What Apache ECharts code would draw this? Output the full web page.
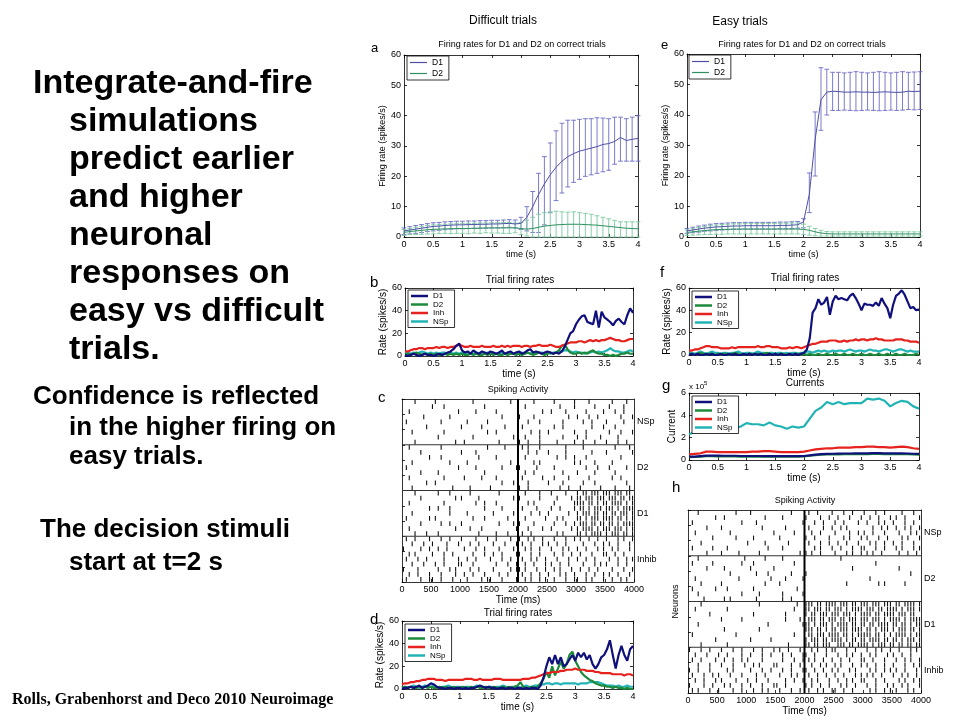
<!DOCTYPE html>
<html><head><meta charset="utf-8">
<script src="https://cdn.jsdelivr.net/npm/echarts@6/dist/echarts.min.js"></script>
<style>html,body{margin:0;padding:0;background:#fff}#c{width:960px;height:720px}</style>
</head><body><div id="c"></div>
<script>
// ---------------- DATA ----------------
// time grids (s)
const STEP_A = 0.1;   // panels a, e, g
const STEP_B = 0.05;  // panels b, d, f
// panel a (difficult, mean +/- sd)
const aD1Mean = [2.0,2.3,2.6,2.9,3.2,3.5,3.6,3.8,3.9,4.0, 4.0,4.1,4.1,4.2,4.2,4.3,4.3,4.4,4.5,4.3, 4.5,6.5,10,14,17.5,20.5,23,25,26.5,27.5, 28.3,28.8,29.3,29.8,30.5,30.8,31.5,32.8,31.8,32.2, 32.5];
const aD1Hi   = [3.0,3.4,3.8,4.1,4.4,4.7,4.8,5.0,5.1,5.2, 5.2,5.3,5.3,5.4,5.4,5.5,5.5,5.6,5.7,5.6, 6.5,10,15,21,26.5,31,35,37.5,38.5,38.5, 38.8,39,39,39.3,39.2,39,39.5,39.5,39,39.5, 40];
const aD1Lo   = [0.8,1.0,1.2,1.5,1.8,2.0,2.2,2.4,2.6,2.7, 2.7,2.8,2.8,2.9,2.9,3.0,3.0,3.1,3.2,3.0, 2.5,2.0,1.5,1.5,4,8,12,14.5,16.5,18, 19,20,20.5,21,21.5,22,24,25,25,25, 25];
const aD2Mean = [1.5,1.8,2.0,2.2,2.4,2.5,2.6,2.7,2.7,2.8, 2.8,2.8,2.9,2.9,3.0,3.0,3.0,3.0,3.0,3.0, 2.8,2.6,2.8,3.2,3.6,3.8,4.0,4.1,4.2,4.2, 4.2,4.1,4.0,3.9,3.7,3.5,3.3,3.1,2.9,2.8, 2.7];
const aD2Hi   = [2.5,2.8,3.2,3.5,3.8,4.0,4.1,4.2,4.3,4.4, 4.4,4.5,4.5,4.6,4.6,4.7,4.7,4.8,4.8,4.6, 4.8,5.5,6.5,7.5,8.0,8.3,8.5,8.3,8.2,8.3, 8.0,7.8,7.5,7.0,6.5,6.0,5.5,5.0,5.0,5.0, 5.0];
const aD2Lo   = [0.5,0.8,0.8,0.9,1.0,1.0,1.1,1.2,1.1,1.2, 1.2,1.1,1.3,1.2,1.4,1.3,1.3,1.2,1.2,1.4, 0.8,0.3,0,0,0,0,0,0,0,0, 0,0,0,0,0,0,0,0,0,0, 0];
// panel e (easy, mean +/- sd)
const eD1Mean = [2.0,2.3,2.6,2.9,3.1,3.3,3.4,3.5,3.6,3.6, 3.7,3.7,3.7,3.7,3.7,3.7,3.8,3.8,3.9,4.0, 5.0,14,32,45,47.5,47.8,47.7,47.5,47.5,47.6, 47.5,47.5,47.4,47.5,47.6,47.5,47.4,47.5,47.8,47.7, 47.8];
const eD1Hi   = [2.8,3.2,3.6,3.9,4.2,4.4,4.5,4.6,4.7,4.7, 4.8,4.8,4.8,4.8,4.8,4.8,4.9,4.9,5.0,5.1, 6.0,21,41,55.5,55,54,54,53.8,54,54.2, 54,53.8,54,54.2,54,53.8,54,54.2,54,54.1, 54.2];
const eD1Lo   = [1.2,1.4,1.6,1.9,2.0,2.2,2.3,2.4,2.5,2.5, 2.6,2.6,2.6,2.6,2.6,2.6,2.7,2.7,2.8,2.9, 3.0,8,20,35,40,41.5,41.5,41.6,41.5,41.4, 41.5,41.6,41.5,41.4,41.5,41.6,41.5,41.6,41.8,41.7, 41.8];
const eD2Mean = [1.5,1.7,1.9,2.1,2.3,2.4,2.5,2.5,2.6,2.6, 2.6,2.6,2.6,2.6,2.6,2.6,2.6,2.6,2.6,2.6, 2.5,2.2,1.7,1.3,1.1,1.0,1.0,1.0,1.0,1.0, 1.0,1.0,1.0,1.0,1.0,1.0,1.0,1.0,1.0,1.0, 1.0];
const eD2Hi   = [2.3,2.7,3.1,3.4,3.7,3.9,4.1,4.2,4.3,4.3, 4.4,4.4,4.4,4.4,4.4,4.5,4.5,4.5,4.6,4.6, 4.2,3.5,2.8,2.2,1.8,1.7,1.7,1.7,1.7,1.7, 1.7,1.7,1.7,1.7,1.7,1.7,1.7,1.7,1.7,1.7, 1.7];
const eD2Lo   = [0.5,0.6,0.7,0.8,0.8,0.9,0.9,1.0,1.0,1.0, 1.0,1.0,1.0,1.0,1.0,1.0,1.0,1.0,1.0,1.0, 0.8,0.6,0.4,0.3,0.3,0.3,0.3,0.3,0.3,0.3, 0.3,0.3,0.3,0.3,0.3,0.3,0.3,0.3,0.3,0.3, 0.3];
// panel b (difficult trial firing rates)
const bD1  = [1,0,1,2,1,0,1,2,1,1, 0,1,2,1,2,3,4,6,9,11, 5,3,4,2,5,3,2,4,3,2, 4,3,2,3,5,2,3,4,2,3, 4,2,3,5,6,3,4,3,2,3, 4,3,2,3,2,4,8,14,20,22, 28,32,35,36,30,29,28,40,25,39, 34,32,30,27,31,33,30,28,36,42, 38];
const bD2  = [1,2,1,2,3,2,1,2,1,2, 1,2,1,1,2,1,2,1,2,1, 2,1,1,2,1,2,1,1,2,1, 2,1,2,1,1,2,1,2,2,1, 2,1,2,3,2,1,2,3,2,1, 2,3,2,3,5,9,10,6,3,2, 2,3,2,3,2,4,5,3,2,2, 1,1,0,1,0,1,2,2,3,2, 2];
const bInh = [4,4,5,6,6,7,7,6,7,7, 7,8,7,8,8,7,8,8,9,10, 9,8,8,9,8,8,8,9,8,8, 8,9,8,8,9,8,9,8,9,9, 9,8,9,9,8,9,9,10,9,9, 9,10,9,8,8,9,10,11,12,12, 12,13,13,12,13,14,13,14,13,14, 14,15,16,15,14,14,13,13,14,15, 15];
const bNSp = [2,3,2,3,2,3,4,3,2,3, 2,3,2,3,3,2,3,2,3,2, 3,2,3,2,2,3,2,3,2,3, 2,3,2,2,3,2,3,2,2,3, 2,3,2,3,2,3,2,3,3,2, 3,2,3,3,4,4,5,5,4,3, 4,3,3,2,3,3,4,3,4,3, 4,5,7,5,4,4,3,3,4,5, 4];
// panel f (easy trial firing rates)
const fD1  = [0,1,0,1,0,0,1,0,1,0, 0,1,0,0,1,0,1,0,0,1, 0,1,0,1,0,1,0,0,1,0, 1,0,1,0,0,1,0,1,0,1, 2,5,15,38,42,50,45,47,52,36, 48,53,50,51,50,49,53,55,51,46, 40,46,45,45,44,47,44,51,46,42, 33,45,53,55,58,54,48,42,43,40, 41];
const fD2  = [1,1,0,1,2,1,0,1,1,0, 1,0,1,1,0,1,2,1,0,1, 0,1,1,0,1,0,1,2,1,0, 1,0,1,1,0,1,0,1,1,0, 1,0,1,0,0,1,0,0,1,0, 0,1,0,0,1,0,0,1,0,0, 1,0,0,1,0,0,1,0,0,1, 0,0,1,0,0,1,0,0,0,1, 0];
const fInh = [4,4,5,5,6,7,8,8,7,7, 7,6,6,6,6,7,6,7,7,7, 7,7,7,7,8,7,7,8,8,7, 7,7,6,6,6,7,6,7,7,6, 7,8,9,10,10,11,12,12,12,13, 13,13,12,12,13,12,13,13,14,13, 14,14,13,14,14,15,14,14,13,13, 13,13,14,14,14,13,13,12,12,12, 11];
const fNSp = [1,2,1,2,3,2,1,2,3,2, 2,1,2,2,1,2,2,3,2,1, 2,2,1,2,3,2,2,1,2,2, 1,2,2,1,2,1,2,2,1,2, 2,3,3,2,3,4,3,4,3,3, 4,3,4,4,3,4,5,4,3,4, 4,3,4,5,4,4,3,4,5,5, 4,3,4,5,5,4,3,4,3,3, 3];
// panel d (difficult trial, other example)
const dD1  = [0,1,1,2,1,2,3,1,2,3, 5,4,2,1,1,0,1,1,0,1, 1,0,1,0,1,1,2,3,2,1, 2,1,1,0,1,1,0,1,1,0, 1,1,0,1,0,1,1,0,3,10, 20,28,22,30,22,28,20,22,26,30, 25,32,28,32,26,30,22,18,22,28, 30,35,43,30,18,30,38,30,25,35, 38];
const dD2  = [1,2,1,2,1,1,2,1,2,1, 2,1,1,2,1,2,1,1,2,1, 1,2,1,1,2,1,2,1,1,2, 1,1,2,1,1,2,1,2,1,2, 3,6,2,1,1,2,1,2,5,9, 15,10,20,12,18,24,18,22,30,33, 25,20,15,12,10,8,7,5,4,3, 3,2,2,1,2,1,1,0,1,0, 0];
const dInh = [4,5,5,6,6,7,7,8,8,9, 9,9,8,8,8,7,8,8,8,8, 8,8,9,9,9,8,8,9,8,8, 8,8,9,9,9,8,8,8,8,8, 8,8,9,9,9,10,10,11,12,13, 14,14,15,15,15,16,16,17,17,17, 18,17,17,17,16,16,16,15,15,14, 14,14,14,13,13,13,13,12,13,13, 12];
const dNSp = [1,2,1,2,3,2,1,2,3,2, 2,3,2,1,2,2,3,2,1,2, 2,1,2,2,1,2,3,2,2,1, 2,2,1,2,2,3,2,1,2,2, 2,1,2,3,2,2,3,3,4,4, 5,5,4,5,5,4,5,5,5,5, 5,4,5,5,5,6,6,6,6,5, 4,3,3,3,2,3,2,2,3,2, 2];
// panel g (currents, x 10^5)
const gD1  = [0.3,0.3,0.35,0.4,0.4,0.4,0.38,0.38,0.38,0.36, 0.36,0.36,0.36,0.35,0.35,0.35,0.34,0.34,0.34,0.34, 0.36,0.42,0.48,0.52,0.55,0.56,0.57,0.58,0.58,0.6, 0.6,0.6,0.62,0.62,0.6,0.6,0.6,0.6,0.58,0.56, 0.55];
const gD2  = [0.25,0.27,0.3,0.35,0.35,0.33,0.32,0.32,0.32,0.3, 0.3,0.3,0.3,0.3,0.3,0.3,0.3,0.3,0.3,0.3, 0.32,0.38,0.43,0.47,0.5,0.5,0.51,0.52,0.52,0.53, 0.53,0.53,0.54,0.54,0.53,0.53,0.53,0.52,0.52,0.5, 0.48];
const gInh = [0.5,0.55,0.6,0.75,0.75,0.7,0.7,0.7,0.7,0.7, 0.7,0.75,0.75,0.8,0.8,0.75,0.7,0.7,0.7,0.7, 0.75,0.85,0.95,1.0,1.05,1.05,1.1,1.1,1.1,1.15, 1.15,1.2,1.2,1.15,1.15,1.1,1.15,1.2,1.15,1.05, 1.0];
const gNSp = [2.3,2.5,2.6,2.7,2.8,2.9,2.9,2.85,2.85,3.0, 3.3,3.2,3.2,3.1,3.35,3.1,3.0,2.8,3.0,2.9, 3.0,3.7,4.4,4.7,5.2,5.0,5.2,5.0,5.1,5.1, 5.1,5.5,5.4,5.5,5.3,4.8,5.1,5.3,5.2,4.8, 4.6];
// rasters: one string per neuron row, each char = 50 ms bin, '|' = spike (0..4000 ms)
const BIN_MS = 50;
const rasterGroups = ['NSp','D2','D1','Inhib'];
const cNSp = [
"....|..... .|........ ....|..... .......|.. .....|.... ..|......| ....|..... ..|....|..",
".......... |...|..... ........|. .......... ..|....... ....|....| ......|... .|....|...",
"..|....... .........| .....|.... ..|....... ........|. .|....|... ...|.....| ...|..|...",
".......|.. ......|... .......... ....|..... |....|.... .......|.. |...|..|.. .....|...|",
".|........ ...|...... ..|......| .......... ...|...|.. .....|.... ..|..|.... |.....|...",
"........|. .......... |......|.. .....|.... .|........ ..|..|.... .....|...| ...|......",
"...|...... ....|..... .........| ..|....... ....|..|.. |........| ...|...... .|...|...|",
".......... ..|....... ....|..... ........|. ..|....|.. .....|.... |..|....|. ....|.....",
"....|..... ........|. .|........ ...|...... |..|...|.. ...|.....| ..|...|... |...|..|.."];
const cD2 = [
"..|....... ...|...... .........| .....|.... .|.|...|.. ......|... ..|....... ...|....|.",
"......|... .......... |....|.... .......... ...|..|... |.....|... .....|.... |........|",
".........| ...|...... ......|... ..|....... ..|....... ...|..|..| ...|...... .....|....",
"...|...... ......|... ..|....... .......|.. .....|.|.. .........| .|....|... ..|.......",
".|........ .........| .....|.... ....|....| |.....|... ..|....... ...|...|.. .|.....|..",
"......|... ..|....... ........|. .......... ..|..|.... .....|.... |.....|... ...|......",
"..|....... ....|..... .|.....|.. ..|....... .|......|. ..|....|.. ....|..... ..|..|....",
"........|. .|........ .......... ....|...|. ...|...... |....|.... ..|...|... .......|..",
"...|...... .......|.. ...|...... |......... |..|...... ....|..|.. .|......|. ...|....|."];
const cD1 = [
"....|..... ..|...|... ...|...... ...|...... ..|....|.. .|....|... |.||.|||.| ||.|||.||.",
"......|... ........|. |.....|... ........|. |......|.. ...|....|. ||.|||.||| .|||.||.||",
"..|....... ....|..... .....|..|. ..|....... ...|.|.... ..|......| |||.||.|.| |.||||.|.|",
".........| ..|...|... ........|. ....|..... .|....|... .|..|....| .||.|.|||. |||.|.||||",
"...|...... ......|... ..|....... .|......|. ....|..|.. |......|.. |.|||.||.| |.||.|||.|",
".|.......| .|........ ....|...|. ......|... ..|......| ...|.|.... ||.|.|||.| |||.||.|.|",
"......|... ...|..|... |......... ...|....|. |....|.... ..|...|..| .|||.||.|| .||.|.||||",
"..|....... ........|. ...|...|.. .........| ...|....|. .|......|. |.||||.|.| ||.|||.|.|",
"....|...|. ..|....... ......|... ..|...|... .|..|..... ...|.|.... ||.|.||||. |.|||.||.|"];
const cInhib = [
".|..|....| ...|..|... |....|...| ..|....|.. |..|.|..|. ..|...|..| .|..|..|.. |...|.|..|",
"...|...|.. |....|...| ...|..|... .|...|...| .|..|...|. |..|..|... ..|...|..| .|..|...|.",
"|.....|..| ..|..|.... .|...|..|. ...|....|. ..|.|..|.. .|...|.|.. |..|...|.| ..|.|...|.",
"..|.|..... |...|..|.. ....|...|. .|..|....| |...|..|.. ..|..|..|. .|...|...| |..|..|...",
".|...|..|. ....|....| ..|..|.... |...|..|.. .|..|.|..| ...|...|.. |..|..|... .|..|..|.|",
"...|...|.. .|..|....| |...|..... ..|...|..| ..|..|...| .|..|..|.. ..|...|.|. |...|..|..",
"|....|.... ..|...|.|. ...|..|... .|.....|.| |.|...|..| ..|.|...|. .|..|..|.. ..|...|..|",
"..|..|...| ...|....|. .|..|...|. ...|..|... .|..|..|.. |...|.|..| ...|..|..| .|..|...|.",
".|....|..| |..|...|.. ..|....|.| |...|....| ..|.|..|.| ..|...|..| |..|.|...| ..|..|.|.."];
const hNSp = [
"...|...... ......|... .|........ .....|.... .|..|....| ...|..|... |...|..|.. ...|...|..",
".........| ..|....... ......|... ..|....... |....|..|. .|...|...| ..|..|...| .|..|....|",
".|........ ........|. ...|...... .........| ...|..|... |..|....|. .|...|.|.. |...|..|..",
"......|... .|........ .....|.... ...|...... .|....|..| ..|.|..... ...|..|.|. .|..|.|..|",
"..|....... ....|..... .........| ......|... ..|..|.... |....|..|. |..|...|.. ..|...|.|.",
"........|. ......|... ..|....... .|........ |..|....|. ...|.|...| .|...|..|. ...|.|...|",
"....|..... .......... |.....|... ....|..... .|...|..|. .|..|...|. ..|.|..|.. |..|...|..",
".|......|. ...|...... .......|.. ..|....... ...|.|...| ..|...|..| |...|..|.. .|.|...|.|",
"......|... .|.....|.. ....|..... ........|. |.|..|.... |...|.|..| .|.|..|... ..|..|..|."];
const hD2 = [
"...|...... .........| ......|... ..|....... .......... ..|....... .......... ..........",
".|......|. ........|. ..|....... ......|... .......... .......... ....|..... ..........",
"......|... ..|....... .|.......| .......... .......... ......|... .......... ..|.......",
".......... ....|..... ...|...|.. .....|.... |......... .......... .......... ......|...",
"..|....... .......|.. ........|. ...|.....| .......... .......... ..|....... ..........",
"....|..... .|........ ......|... .|........ .......... ....|..... .....|.|.. ....|.....",
".|.......| ...|...... ..|....... .......|.. .......... .......... .......... ..........",
"...|...... ........|. ....|..... ..|......| .......... .......... .......... ..........",
".....|.... ..|.|..... ...|...... ..|..|.... .......... .......... .......... .........."];
const hD1 = [
"....|..... .......... ....|..... .......|.. |||.||.||| |.|||.||.| ||.|||.||| .||.||||.|",
"..|....... ...|...... .......... ......|... ||.|||.||. |||.|.|||| .|||.||.|| ||.|.|||.|",
".......|.. .......... ..|....... ...|...... |.||.|||.| ||.|||.|.| |||.||.||| |.|||.||..",
".......... .|......|. .......... ...|....|. .|||.||.|| |.||.|||.| ||.|||.|.| |||.|.||||",
"...|...... .......... .......|.. .........| ||.|.|||.| .||||.||.| |.||.||||. ||.||.|.||",
".......... ..|....... ....|..... .......... |||.||.|.| |.|||.|||| .||.|.|||. |.|||.||.|",
".|........ ......|... .......... ......|... .||.|||.|| ||.||.|.|| |||.||.|.| .||||.|.||",
".........| .......... .|......|. .......... |.|||.||.| |||.|.||.| |.||||.||. ||.|.|||.|",
"....|..... ...|...... .......... ....|..... ||.||.|||. .|||.||.|| ||.|.|||.| |.||.||.||"];
const hInhib = [
"|...|..|.. .|...|..|. ..|..|...| .|..|...|. ..|.|..|.| |...|..|.. .|..|.|..| ..|...|.|.",
"..|...|... |..|....|. .|...|..|. ..|..|...| |..|...|.. .|..|.|..| ..|.|...|. |..|..|...",
".|..|....| ..|..|..|. |....|.... ..|...|..| .|.|..|..| ..|..|...| |..|...|.. .|..|.|..|",
"...|...|.. .|...|...| ..|.|....| |....|..|. ..|..|.|.. |.|...|..| .|..|..|.. |...|..|.|",
"|..|...|.. ...|.|.... .|...|..|. ..|..|...| |..|..|..| .|...|.|.. ..|.|..|.| .|..|...|.",
".|...|..|. |...|...|. ...|..|... .|...|.|.. .|..|..|.. |..|...|.| .|.|..|... |..|.|..|.",
"..|..|...| .|....|... |..|...|.. ...|..|..| ..|.|...|. .|..|.|..| |...|..|.. ..|.|..|.|",
"|....|..|. ..|.|...|. .|...|...| |..|...... |.|..|..|. ..|.|..|.. .|..|...|. |..|.|...|",
".|.|...|.. |....|..|. ..|..|.|.. .|...|..|. .|..|.|..| |..|..|... ..|.|..|.| .|...|.|.."];
const groupBounds = [9, 18, 27];
const stimulusOnsetMs = 2000;

// ---------------- STYLE ----------------
const NARROW = "'Liberation Sans Narrow','Arial Narrow','Liberation Sans',Arial,sans-serif";
const SANS = "'Liberation Sans',Arial,sans-serif";
const COL = {aD1:'#4f4fa6', aD1e:'#6c6cc4', aD2:'#2f8f60', aD2e:'#7ccaa0',
             D1:'#10107c', D2:'#1d8a3a', Inh:'#e5221e', NSp:'#22b3b5'};

const grids=[], xAxes=[], yAxes=[], series=[], legends=[], graphics=[];
const tickS = {show:true, inside:true, length:3, lineStyle:{color:'#000', width:0.8}};
const lineS = {show:true, onZero:false, lineStyle:{color:'#000', width:0.8}};
const plainNum = v => String(v);

function panel(box, xc, yc) {
  const gi = grids.length;
  grids.push({left:box[0], top:box[1], width:box[2], height:box[3], show:true, borderWidth:0, backgroundColor:'#fff'});
  const xi = xAxes.length, yi = yAxes.length;
  xAxes.push({gridIndex:gi, type:'value', position:'bottom', min:xc.min, max:xc.max, interval:xc.interval,
    axisLine:lineS, axisTick:tickS, splitLine:{show:false},
    axisLabel:{color:'#000', fontSize:xc.fs||9, fontFamily:NARROW, margin:xc.margin||3, formatter:plainNum},
    name:xc.name, nameLocation:'middle', nameGap:xc.gap,
    nameTextStyle:{color:'#000', fontSize:xc.nfs||9, fontFamily:NARROW}});
  xAxes.push({gridIndex:gi, type:'value', position:'top', min:xc.min, max:xc.max, interval:xc.interval,
    axisLine:lineS, axisTick:xc.topTicks===false?{show:false}:tickS, axisLabel:{show:false}, splitLine:{show:false}});
  yAxes.push({gridIndex:gi, type:'value', position:'left', min:yc.min, max:yc.max, interval:yc.interval, inverse:!!yc.inverse,
    axisLine:lineS, axisTick:tickS, splitLine:{show:false},
    axisLabel:yc.noLabel?{show:false}:{color:'#000', fontSize:yc.fs||9, fontFamily:NARROW, margin:3, formatter:plainNum},
    name:yc.name, nameLocation:'middle', nameGap:yc.gap, nameRotate:90,
    nameTextStyle:{color:'#000', fontSize:yc.nfs||9, fontFamily:NARROW}});
  if (yc.right) {
    yAxes.push(Object.assign({gridIndex:gi, position:'right'}, yc.right));
  } else {
    yAxes.push({gridIndex:gi, type:'value', position:'right', min:yc.min, max:yc.max, interval:yc.interval,
      axisLine:lineS, axisTick:tickS, axisLabel:{show:false}, splitLine:{show:false}});
  }
  return {xi, yi};
}

function pairs(arr, step){ return arr.map((v,i)=>[Math.round(i*step*100)/100, v]); }
function triples(lo, hi, step){ return lo.map((v,i)=>[Math.round(i*step*100)/100, v, hi[i]]); }

function errRender(color){
  return function(params, api){
    const x = api.value(0);
    const p1 = api.coord([x, api.value(2)]), p2 = api.coord([x, api.value(1)]);
    const hw = 2.4, st = {stroke:color, lineWidth:0.9};
    return {type:'group', children:[
      {type:'line', shape:{x1:p1[0],y1:p1[1],x2:p2[0],y2:p2[1]}, style:st},
      {type:'line', shape:{x1:p1[0]-hw,y1:p1[1],x2:p1[0]+hw,y2:p1[1]}, style:st},
      {type:'line', shape:{x1:p2[0]-hw,y1:p2[1],x2:p2[0]+hw,y2:p2[1]}, style:st}]};
  };
}
function addLine(ax, name, arr, step, color, w){
  series.push({type:'line', name, xAxisIndex:ax.xi, yAxisIndex:ax.yi, data:pairs(arr, step),
    showSymbol:false, symbol:'none', lineStyle:{color, width:w}, itemStyle:{color}, animation:false, z:3});
}
function addErr(ax, lo, hi, step, color){
  series.push({type:'custom', xAxisIndex:ax.xi, yAxisIndex:ax.yi, data:triples(lo, hi, step),
    encode:{x:0, y:[1,2]}, renderItem:errRender(color), animation:false, z:2, silent:true});
}
function addLegend(left, top, items, opt){
  legends.push(Object.assign({left, top, orient:'vertical', selectedMode:false,
    borderColor:'#000', borderWidth:0.8, backgroundColor:'#fff', padding:[2,6,2,3],
    itemWidth:17, itemHeight:2.5, itemGap:0.5,
    textStyle:{color:'#000', fontSize:8, lineHeight:8, fontFamily:NARROW},
    data:items.map(([n,c])=>({name:n, icon:'rect', itemStyle:{color:c}}))}, opt||{}));
}

// ---- panel a ----
let ax = panel([404,55,234,182], {min:0,max:4,interval:0.5,name:'time (s)',gap:12},
  {min:0,max:60,interval:10,name:'Firing rate (spikes/s)',gap:12});
addErr(ax, aD1Lo, aD1Hi, STEP_A, COL.aD1e);
addErr(ax, aD2Lo, aD2Hi, STEP_A, COL.aD2e);
addLine(ax, 'D1', aD1Mean, STEP_A, COL.aD1, 1);
addLine(ax, 'D2', aD2Mean, STEP_A, COL.aD2, 1);
addLegend(407, 56, [['D1',COL.aD1],['D2',COL.aD2]], {itemHeight:1.2, itemGap:2, textStyle:{color:'#000',fontSize:8.5,lineHeight:9,fontFamily:NARROW}});
// ---- panel e ----
ax = panel([687,54,233,183], {min:0,max:4,interval:0.5,name:'time (s)',gap:12},
  {min:0,max:60,interval:10,name:'Firing rate (spikes/s)',gap:12});
addErr(ax, eD1Lo, eD1Hi, STEP_A, COL.aD1e);
addErr(ax, eD2Lo, eD2Hi, STEP_A, COL.aD2e);
addLine(ax, 'D1', eD1Mean, STEP_A, COL.aD1, 1);
addLine(ax, 'D2', eD2Mean, STEP_A, COL.aD2, 1);
addLegend(689, 55, [['D1',COL.aD1],['D2',COL.aD2]], {itemHeight:1.2, itemGap:2, textStyle:{color:'#000',fontSize:8.5,lineHeight:9,fontFamily:NARROW}});

const four = [['D1',COL.D1],['D2',COL.D2],['Inh',COL.Inh],['NSp',COL.NSp]];
function ratePanel(box, D1, D2, Inh, NSp, legPos){
  const a = panel(box, {min:0,max:4,interval:0.5,name:'time (s)',gap:9,fs:9,nfs:10},
    {min:0,max:60,interval:20,name:'Rate (spikes/s)',gap:13,nfs:10});
  addLine(a,'NSp',NSp,STEP_B,COL.NSp,2.2);
  addLine(a,'D2',D2,STEP_B,COL.D2,2.2);
  addLine(a,'Inh',Inh,STEP_B,COL.Inh,2.2);
  addLine(a,'D1',D1,STEP_B,COL.D1,2.2);
  addLegend(legPos[0], legPos[1], four);
}
ratePanel([405,288,228,68], bD1, bD2, bInh, bNSp, [408,290]);
ratePanel([689,288,230,67], fD1, fD2, fInh, fNSp, [692,291]);
ratePanel([402,621,231,68], dD1, dD2, dInh, dNSp, [405,624]);
// ---- panel g ----
ax = panel([689,393,230,67], {min:0,max:4,interval:0.5,name:'time (s)',gap:9,nfs:10},
  {min:0,max:6,interval:2,name:'Current',gap:12,nfs:10});
addLine(ax,'NSp',gNSp,STEP_A,COL.NSp,2.2);
addLine(ax,'Inh',gInh,STEP_A,COL.Inh,2.2);
addLine(ax,'D2',gD2,STEP_A,COL.D2,2.2);
addLine(ax,'D1',gD1,STEP_A,COL.D1,2.2);
addLegend(692, 396, four);

// ---- rasters ----
function spikeData(groups){
  const out=[]; let row=0;
  groups.forEach(g=>g.forEach(s=>{
    const str=s.replace(/ /g,'');
    for(let i=0;i<str.length;i++) if(str[i]==='|') out.push([i*BIN_MS+BIN_MS/2, row]);
    row++;
  }));
  return {data:out, rows:row};
}
function rasterPanel(box, groups, yName){
  const sd = spikeData(groups);
  const a = panel(box, {min:0,max:4000,interval:500,name:'Time (ms)',gap:9,fs:9,nfs:10,topTicks:false},
    {min:0,max:sd.rows,interval:3,inverse:true,noLabel:true,name:yName,gap:8,nfs:9,
     right:{type:'category', data:rasterGroups, inverse:true, boundaryGap:true,
       axisLine:lineS, axisTick:{show:false}, splitLine:{show:false},
       axisLabel:{color:'#000', fontSize:9, fontFamily:NARROW, margin:3}}});
  series.push({type:'custom', xAxisIndex:a.xi, yAxisIndex:a.yi, data:sd.data, encode:{x:0,y:1}, animation:false, silent:true,
    renderItem:(p,api)=>{const t=api.value(0), r=api.value(1);
      const p1=api.coord([t,r+0.04]), p2=api.coord([t,r+0.96]);
      return {type:'line', shape:{x1:p1[0],y1:p1[1],x2:p2[0],y2:p2[1]}, style:{stroke:'#111', lineWidth:1.1}};}});
  series.push({type:'custom', xAxisIndex:a.xi, yAxisIndex:a.yi, data:groupBounds.map(v=>[0,v]), encode:{x:0,y:1}, animation:false, silent:true,
    renderItem:(p,api)=>{const y=api.value(1); const p1=api.coord([0,y]), p2=api.coord([4000,y]);
      return {type:'line', shape:{x1:p1[0],y1:p1[1],x2:p2[0],y2:p2[1]}, style:{stroke:'#333', lineWidth:1}};}});
  series.push({type:'custom', xAxisIndex:a.xi, yAxisIndex:a.yi, data:[[stimulusOnsetMs,0]], encode:{x:0,y:1}, animation:false, silent:true, z:4,
    renderItem:(p,api)=>{const x=api.value(0); const p1=api.coord([x,0]), p2=api.coord([x,sd.rows]);
      return {type:'line', shape:{x1:p1[0],y1:p1[1],x2:p2[0],y2:p2[1]}, style:{stroke:'#000', lineWidth:2}};}});
}
rasterPanel([402,399,232,183], [cNSp,cD2,cD1,cInhib], '');
rasterPanel([688,510,233,183], [hNSp,hD2,hD1,hInhib], 'Neurons');

// ---------------- TEXT ----------------
function txt(text, x, y, font, align){
  graphics.push({type:'text', x, y, silent:true, style:{text, font, fill:'#000', textAlign:align||'left', textVerticalAlign:'middle'}});
}
const big = "bold 34px 'Liberation Sans',Arial,sans-serif";
const mid = "bold 26px 'Liberation Sans',Arial,sans-serif";
const leftLines = ['simulations','predict earlier','and higher','neuronal','responses on','easy vs difficult','trials.'];
txt('Integrate-and-fire', 33, 84, big);
leftLines.forEach((s,i)=>txt(s, 69, 122+38*i, big));
txt('Confidence is reflected', 33, 397, mid);
txt('in the higher firing on', 69, 428, mid);
txt('easy trials.', 69, 457, mid);
txt('The decision stimuli', 40, 530, mid);
txt('start at t=2 s', 69, 563, mid);
txt('Rolls, Grabenhorst and Deco 2010 Neuroimage', 12, 700, "bold 16px 'Liberation Serif','Times New Roman',serif");
const hdr = "12px " + NARROW;
txt('Difficult trials', 503, 21, hdr, 'center');
txt('Easy trials', 740, 22, hdr, 'center');
const ttl = "9px " + NARROW, ttl2 = "10px " + NARROW;
txt('Firing rates for D1 and D2 on correct trials', 522, 45, ttl, 'center');
txt('Firing rates for D1 and D2 on correct trials', 802, 45, ttl, 'center');
txt('Trial firing rates', 520, 280, ttl2, 'center');
txt('Trial firing rates', 805, 278, ttl2, 'center');
txt('Currents', 805, 383, ttl2, 'center');
txt('Spiking Activity', 518, 390, ttl, 'center');
txt('Spiking Activity', 805, 501, ttl, 'center');
txt('Trial firing rates', 518, 613, ttl2, 'center');
txt('x 10', 689, 387, "8px " + NARROW);
txt('5', 704, 383, "6px " + NARROW);
const let13 = "13px " + SANS, let14 = "15px " + SANS;
txt('a', 371, 48, let13); txt('e', 661, 45, let13);
txt('b', 370, 283, let14); txt('f', 660, 273, let14);
txt('c', 378, 398, let14); txt('g', 662, 386, let14);
txt('d', 370, 620, let14); txt('h', 672, 488, let14);

const chart = echarts.init(document.getElementById('c'));
chart.setOption({backgroundColor:'#fff', animation:false, grid:grids, xAxis:xAxes, yAxis:yAxes,
  series, legend:legends, graphic:graphics});
</script></body></html>
